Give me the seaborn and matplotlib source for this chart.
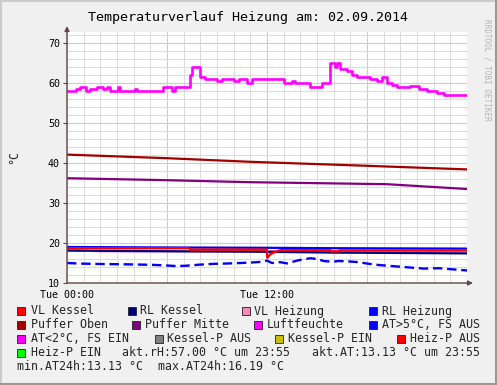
import numpy as np
import pandas as pd
import matplotlib
matplotlib.use("Agg")
import matplotlib.pyplot as plt
import seaborn as sns
from matplotlib.patches import Rectangle
from matplotlib.lines import Line2D
from matplotlib.ticker import MultipleLocator, FuncFormatter

# ---------------- data (hours since Tue 00:00, °C / %) ----------------
luft_h = [0, 0.54, 0.78, 1.14, 1.38, 1.8, 2.16, 2.4, 2.6, 3.05, 3.2, 3.3, 4.07, 4.2,
          5.75, 6.3, 6.5, 7.4, 7.5, 8.0, 8.3, 9.0, 9.3, 10.0, 10.3, 10.8, 11.1,
          13.0, 13.5, 13.7, 14.6, 15.3, 15.8, 16.05, 16.2, 16.4, 16.8, 17.1, 17.4,
          18.2, 18.6, 18.9, 19.2, 19.5, 19.8, 20.6, 21.1, 21.6, 22.2, 22.6, 24.0]
luft_v = [58, 58.5, 59, 58, 58.5, 59, 58.5, 59, 58, 59, 58, 58, 58.5, 58,
          59, 58, 59, 62, 64, 61.5, 61, 60.5, 61, 60.5, 61, 60, 61,
          60, 60.5, 60, 59, 60, 65, 64, 65, 63.5, 63, 62, 61.5,
          61, 60.5, 61.5, 60, 59.5, 59, 59.2, 58.5, 58, 57.5, 57, 57.0]

puffer_oben_h = [0, 6, 11, 18, 24]
puffer_oben_v = [42.1, 41.2, 40.3, 39.3, 38.4]

puffer_mitte_h = [0, 6, 11, 16, 19.2, 24]
puffer_mitte_v = [36.2, 35.7, 35.2, 34.9, 34.7, 33.5]

vl_kessel_h = [0, 7.3, 7.4, 11.98, 12.02, 12.2, 12.5, 12.8, 15.8, 15.85, 16.3, 16.35, 24.0]
vl_kessel_v = [18.7, 18.7, 18.35, 18.35, 16.3, 17.2, 17.8, 18.2, 18.2, 17.9, 17.9, 18.15, 18.15]

rl_kessel_h = [0, 7.5, 12, 16, 24]
rl_kessel_v = [18.1, 17.9, 17.8, 17.6, 17.4]

vl_heizung_h = [0, 2, 8, 12, 24]
vl_heizung_v = [18.3, 17.9, 17.9, 18.0, 17.9]

rl_heizung_h = [0, 5, 12, 16, 24]
rl_heizung_v = [19.0, 18.9, 18.8, 18.7, 18.6]

at_h = [0, 0.8, 2.0, 2.9, 3.8, 5.0, 5.9, 6.5, 7.1, 8.0, 8.9, 9.8, 11.0, 11.7, 12.0,
        12.3, 12.8, 13.2, 13.9, 14.6, 15.0, 15.4, 15.9, 16.3, 16.9, 17.5, 18.1,
        18.7, 19.6, 20.5, 21.4, 22.3, 23.2, 24.0]
at_v = [15.0, 14.85, 14.75, 14.7, 14.65, 14.55, 14.4, 14.25, 14.3, 14.6, 14.8, 14.9,
        15.1, 15.3, 15.6, 15.0, 15.2, 14.9, 15.7, 16.19, 16.0, 15.5, 15.3, 15.5,
        15.4, 15.2, 14.8, 14.5, 14.2, 13.9, 13.6, 13.7, 13.4, 13.13]

legend_names = ["VL Kessel", "RL Kessel", "VL Heizung", "RL Heizung",
                "Puffer Oben", "Puffer Mitte", "Luftfeuchte", "AT>5°C, FS AUS",
                "AT<2°C, FS EIN", "Kessel-P AUS", "Kessel-P EIN", "Heiz-P AUS",
                "Heiz-P EIN"]
legend_colors = ["#ff0000", "#000080", "#ff88bb", "#0000ff",
                 "#a00000", "#800080", "#ff00ff", "#0000ff",
                 "#ff00ff", "#808080", "#c8c000", "#ff0000",
                 "#00ff00"]

x_tick_labels = {0: "Tue 00:00", 12: "Tue 12:00"}
title = "Temperaturverlauf Heizung am: 02.09.2014"

# ---------------- style ----------------
sns.set_theme(style="white")
plt.rcParams["font.family"] = ["DejaVu Sans Mono", "DejaVu Sans"]

W, H = 497, 385
fig = plt.figure(figsize=(W / 100, H / 100), dpi=100, facecolor="#f0f0f0")

# 3D frame
fig.add_artist(Line2D([0, 1], [1 - 1 / H, 1 - 1 / H], transform=fig.transFigure, color="#cbcbcb", lw=1.5))
fig.add_artist(Line2D([1 / W, 1 / W], [0, 1], transform=fig.transFigure, color="#cbcbcb", lw=1.5))
fig.add_artist(Line2D([0, 1], [1 / H, 1 / H], transform=fig.transFigure, color="#999999", lw=1.5))
fig.add_artist(Line2D([1 - 1 / W, 1 - 1 / W], [0, 1], transform=fig.transFigure, color="#999999", lw=1.5))

ax = fig.add_axes([67 / W, (H - 283) / H, 400 / W, 251 / H])
ax.set_facecolor("white")

# ---------------- series ----------------
def draw(hs, vs, color, lw, ls="-", step=True):
    df = pd.DataFrame({"h": hs, "v": vs})
    kw = dict(drawstyle="steps-post") if step else {}
    sns.lineplot(data=df, x="h", y="v", ax=ax, color=color, lw=lw, ls=ls,
                 estimator=None, sort=True, legend=False, **kw)

draw(vl_heizung_h, vl_heizung_v, "#ff88bb", 1.5, step=False)
draw(rl_kessel_h, rl_kessel_v, "#000080", 1.6, step=False)
draw(rl_heizung_h, rl_heizung_v, "#0000ff", 1.6, step=False)
draw(vl_kessel_h, vl_kessel_v, "#ff0000", 1.7, step=False)
draw(puffer_oben_h, puffer_oben_v, "#a00000", 1.6, step=False)
draw(puffer_mitte_h, puffer_mitte_v, "#800080", 1.6, step=False)
draw(luft_h, luft_v, "#ff00ff", 1.9, step=True)
draw(at_h, at_v, "#0000ff", 1.7, ls=(0, (4, 2)), step=False)

# ---------------- axes ----------------
ax.set_xlim(0, 24)
ax.set_ylim(10, 72.75)
ax.xaxis.set_major_locator(MultipleLocator(6))
ax.xaxis.set_minor_locator(MultipleLocator(1))
ax.yaxis.set_major_locator(MultipleLocator(10))
ax.yaxis.set_minor_locator(MultipleLocator(2))
ax.xaxis.set_major_formatter(FuncFormatter(lambda v, p: x_tick_labels.get(int(round(v)), "")))
ax.yaxis.set_major_formatter(FuncFormatter(lambda v, p: f"{int(v)}"))
ax.grid(which="minor", color="#dcdcdc", lw=0.75)
ax.grid(which="major", color="#f6b8b8", lw=0.75)
ax.set_axisbelow(True)
for s in ax.spines.values():
    s.set_visible(False)
ax.tick_params(axis="x", which="both", length=0, pad=5, labelsize=7.2, colors="black")
ax.tick_params(axis="y", which="major", length=3, width=0.8, color="#604848", pad=2,
               labelsize=7.2, labelcolor="black", left=True)
ax.tick_params(axis="y", which="minor", length=0)
ax.set_xlabel("")
ax.set_ylabel("")

arrow = dict(arrowstyle="-|>", color="#604848", lw=1.0, shrinkA=0, shrinkB=0,
             mutation_scale=7)
ax.annotate("", xy=(1 + 6 / 400, 0), xytext=(0, 0), xycoords="axes fraction",
            textcoords="axes fraction", arrowprops=arrow, annotation_clip=False)
ax.annotate("", xy=(0, 1 + 6 / 251), xytext=(0, 0), xycoords="axes fraction",
            textcoords="axes fraction", arrowprops=arrow, annotation_clip=False)

# ---------------- texts ----------------
def fx(px):
    return px / W

def fy(py):
    return 1 - py / H

fig.text(0.5, fy(17), title, ha="center", va="center", fontsize=9.6, color="black")
fig.text(fx(14), fy(157), "°C", rotation=90, ha="center", va="center", fontsize=8.4)
fig.text(fx(487), fy(70), "RRDTOOL / TOBI OETIKER", rotation=270, ha="center",
         va="center", fontsize=5.5, color="#b4b4b4")

# legend layout (square x, text x, row y) per item
leg_pos = [(17, 31, 311), (128, 140, 311), (242, 254, 311), (369, 382, 311),
           (17, 31, 325), (132, 145, 325), (254, 267, 325), (369, 382, 325),
           (17, 31, 339), (155, 167, 339), (275, 288, 339), (397, 410, 339),
           (17, 31, 353)]
for name, col, (sx, tx, ry) in zip(legend_names, legend_colors, leg_pos):
    fig.add_artist(Rectangle((fx(sx), fy(ry + 4)), 8 / W, 8 / H, transform=fig.transFigure,
                             facecolor=col, edgecolor="#202020", lw=0.6))
    fig.text(fx(tx), fy(ry), name, ha="left", va="center", fontsize=8.4)

fig.text(fx(122), fy(353), f"akt.rH:{luft_v[-1]:.2f} °C um 23:55", ha="left", va="center", fontsize=8.4)
fig.text(fx(312), fy(353), f"akt.AT:{at_v[-1]:.2f} °C um 23:55", ha="left", va="center", fontsize=8.4)
fig.text(fx(17), fy(367), f"min.AT24h:{min(at_v):.2f} °C", ha="left", va="center", fontsize=8.4)
fig.text(fx(158), fy(367), f"max.AT24h:{max(at_v):.2f} °C", ha="left", va="center", fontsize=8.4)

fig.savefig("out.png", dpi=100, facecolor=fig.get_facecolor())
